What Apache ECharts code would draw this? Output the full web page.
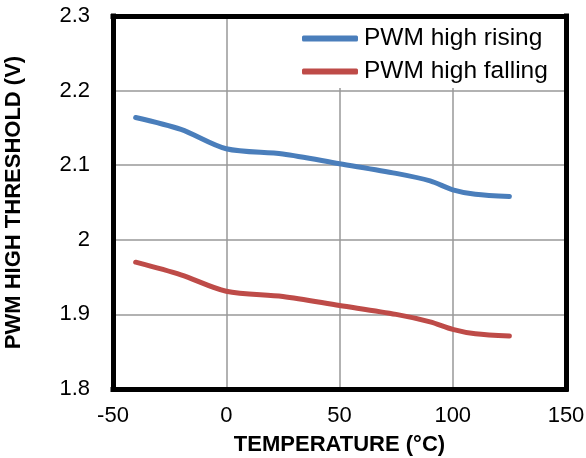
<!DOCTYPE html>
<html>
<head>
<meta charset="utf-8">
<script src="https://cdn.jsdelivr.net/npm/echarts@6/dist/echarts.min.js"></script>
<style>
  html, body { margin: 0; padding: 0; background: #fff; }
  #chart { width: 586px; height: 458px; }
</style>
</head>
<body>
<div id="chart"></div>
<script>
// Temperature sweep points (°C)
const temperatures = [-40, -20, 0, 25, 50, 75, 90, 100, 110, 125];
// PWM high threshold on rising edge (V)
const risingThreshold = [2.164, 2.148, 2.122, 2.115, 2.102, 2.089, 2.079, 2.067, 2.061, 2.058];
// PWM high threshold on falling edge (V)
const fallingThreshold = [1.970, 1.953, 1.931, 1.924, 1.912, 1.900, 1.890, 1.880, 1.874, 1.871];
const seriesNames = ['PWM high rising', 'PWM high falling'];

const font = 'Liberation Sans, Arial, sans-serif';
const chart = echarts.init(document.getElementById('chart'), null, { renderer: 'canvas' });

const pairs = (ys) => temperatures.map((t, i) => [t, ys[i]]);
const frameLine = { show: true, onZero: false, lineStyle: { color: '#000', width: 5, cap: 'square' } };
const gridLine = { lineStyle: { color: '#999', width: 1.5 } };

chart.setOption({
  animation: false,
  backgroundColor: '#fff',
  grid: {
    left: 113, right: 20, top: 16, bottom: 69,
    outerBoundsMode: 'none', containLabel: false
  },
  legend: {
    orient: 'vertical',
    left: 298, top: 19,
    padding: [7, 8, 4, 4],
    backgroundColor: '#fff',
    itemWidth: 56, itemHeight: 6, itemGap: 8,
    icon: 'roundRect',
    textStyle: { fontFamily: font, fontSize: 24.5, color: '#000', padding: [0, 0, 0, 1] },
    data: seriesNames
  },
  xAxis: [
    {
      type: 'value', min: -50, max: 150, interval: 50, position: 'bottom',
      name: 'TEMPERATURE (°C)', nameLocation: 'middle', nameGap: 45,
      nameTextStyle: { fontFamily: font, fontSize: 22, fontWeight: 'bold', color: '#000' },
      axisLine: frameLine, axisTick: { show: false },
      axisLabel: { fontFamily: font, fontSize: 22, color: '#000', margin: 16 },
      splitLine: gridLine
    },
    {
      type: 'value', min: -50, max: 150, interval: 50, position: 'top',
      axisLine: frameLine, axisTick: { show: false }, axisLabel: { show: false },
      splitLine: { show: false }
    }
  ],
  yAxis: [
    {
      type: 'value', min: 1.8, max: 2.3, interval: 0.1, position: 'left',
      name: 'PWM HIGH THRESHOLD (V)', nameLocation: 'middle', nameGap: 88,
      nameTextStyle: { fontFamily: font, fontSize: 22, fontWeight: 'bold', color: '#000' },
      axisLine: frameLine, axisTick: { show: false },
      axisLabel: {
        fontFamily: font, fontSize: 22, color: '#000', margin: 23,
        formatter: (v) => String(Math.round(v * 10) / 10)
      },
      splitLine: gridLine
    },
    {
      type: 'value', min: 1.8, max: 2.3, interval: 0.1, position: 'right',
      axisLine: frameLine, axisTick: { show: false }, axisLabel: { show: false },
      splitLine: { show: false }
    }
  ],
  series: [
    {
      name: seriesNames[0], type: 'line', smooth: 0.3, showSymbol: false, symbol: 'none',
      data: pairs(risingThreshold),
      lineStyle: { color: '#4a7ebb', width: 5, cap: 'round' },
      itemStyle: { color: '#4a7ebb' }
    },
    {
      name: seriesNames[1], type: 'line', smooth: 0.3, showSymbol: false, symbol: 'none',
      data: pairs(fallingThreshold),
      lineStyle: { color: '#be4b48', width: 5, cap: 'round' },
      itemStyle: { color: '#be4b48' }
    }
  ]
});
</script>
</body>
</html>
